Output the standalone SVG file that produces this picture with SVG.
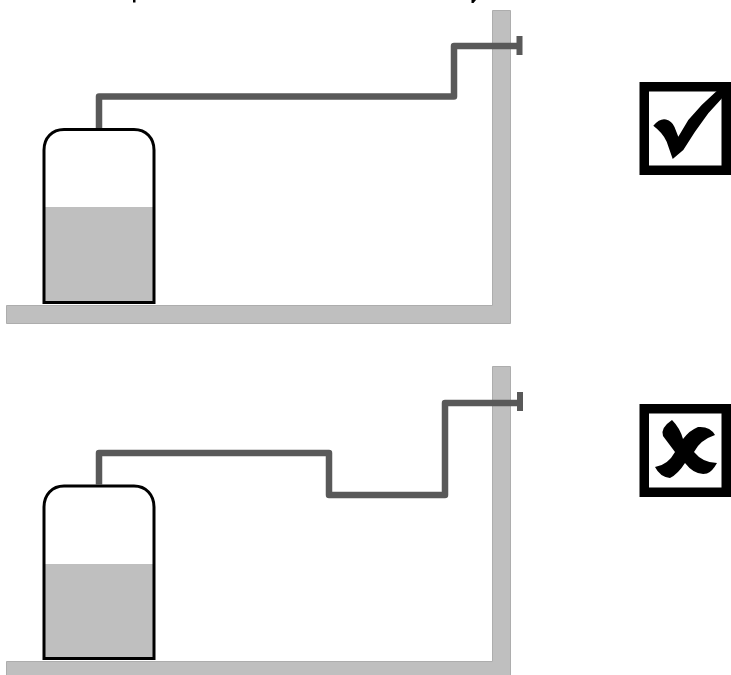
<svg xmlns="http://www.w3.org/2000/svg" width="731" height="675" viewBox="0 0 731 675">
<style>
.struct{fill:#bfbfbf;stroke:#adadad;stroke-width:1}
.pipe{fill:none;stroke:#595959;stroke-width:6.500;stroke-linejoin:round}
.cap{fill:#595959}
.liquid{fill:#bfbfbf}
.tank{fill:none;stroke:#000;stroke-width:3}
.mark{fill:#000}
</style>
<rect width="731" height="675" fill="#fff"/>
<path class="mark" d="M133 0H135.500V2.500H133ZM471.500 0H476L473.500 3H471.500Z"/>
<g id="scene-top">
<path class="struct" d="M6.500 305.500H492.500V10.500H510.500V323.500H6.500Z"/>
<rect class="liquid" x="45" y="207" width="108" height="95"/>
<path class="tank" d="M44 302.500V150C44 138 52 129.500 64 129.500H134C146 129.500 154 138 154 150V302.500Z"/>
<path class="pipe" d="M99 128V96.500H454V46H519"/>
<rect class="cap" x="516.500" y="36" width="6" height="19"/>
</g>
<g id="scene-bottom">
<path class="struct" d="M6.500 661.500H492.500V366.500H510.500V680H6.500Z"/>
<rect class="liquid" x="45" y="564" width="108" height="94"/>
<path class="tank" d="M44 658.500V507C44 495 52 486 64 486H134C146 486 154 495 154 507V658.500Z"/>
<path class="pipe" d="M99 485V453H329V495H445V403H519"/>
<rect class="cap" x="517" y="392" width="6" height="19"/>
</g>
<g id="check-box">
<path class="mark" fill-rule="evenodd" d="M639.500 82H731V175H639.500ZM649 91.500V165.500H721.500V91.500Z"/>
<path class="mark" d="M653.300 125.700Q660 118 666 119.500Q672 121 674.500 127L678.300 136.700L688.300 120L701.700 105L716.700 91L722 91L722 98.300L708.300 113.300L695 131.700L683.300 150L672.700 159L666.700 141.700Q663 133 653.300 125.700Z"/>
</g>
<g id="cross-box">
<path class="mark" fill-rule="evenodd" d="M639.500 404H731V497H639.500ZM649 413.500V487.500H721.500V413.500Z"/>
<path class="mark" d="M672 420Q660 428 663 436L675 452Q668 465 655 467Q660 477 670 478Q678 474 685 463Q695 476 707 473.500Q712 472 717 463Q703 463 694 452Q700 440 715 435Q710 426 698 427Q690 430 683 439Q680 428 672 420Z"/>
</g>
</svg>
